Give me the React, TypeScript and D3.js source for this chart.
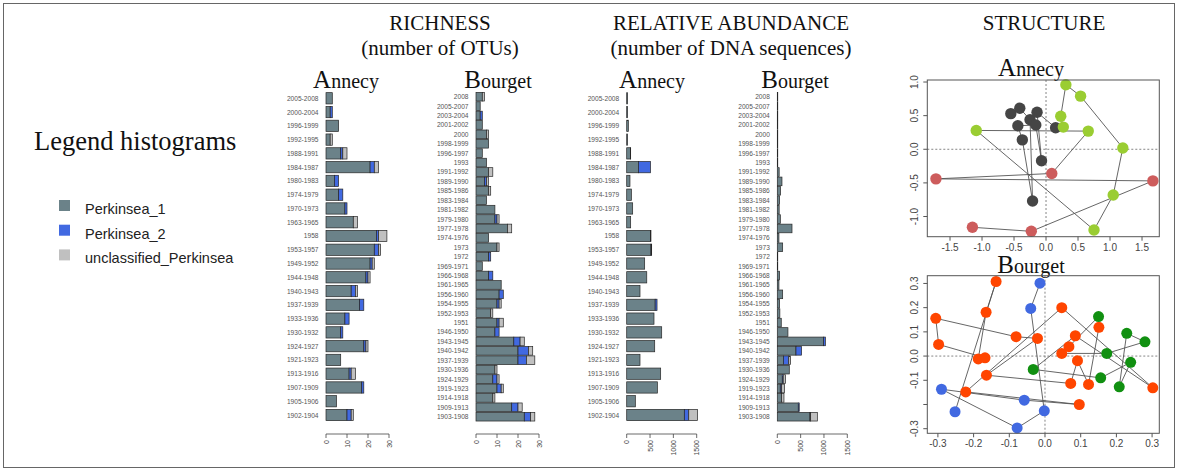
import React from 'react';
import * as d3 from 'd3';

// Annecy periods (top to bottom), shared by richness and abundance
const annecyPeriods = ['2005-2008', '2000-2004', '1996-1999', '1992-1995', '1988-1991', '1984-1987', '1980-1983', '1974-1979', '1970-1973', '1963-1965', '1958', '1953-1957', '1949-1952', '1944-1948', '1940-1943', '1937-1939', '1933-1936', '1930-1932', '1924-1927', '1921-1923', '1913-1916', '1907-1909', '1905-1906', '1902-1904'];
const annecyRichP1 = [3, 2, 6, 2, 7, 21, 4, 6, 9, 13, 24, 23, 21, 19, 12, 16, 9, 7, 18, 7, 11, 17, 5, 10];
const annecyRichP2 = [0, 1, 0, 0, 1, 2, 2, 2, 1, 0, 1, 2, 1, 1, 2, 2, 2, 1, 1, 0, 1, 1, 0, 2];
const annecyRichUn = [0, 0, 0, 1, 2, 2, 0, 0, 0, 2, 4, 1, 1, 1, 1, 0, 0, 0, 1, 0, 2, 0, 0, 1];
const annecyAbP1 = [20, 20, 35, 20, 80, 250, 70, 100, 128, 85, 510, 520, 385, 430, 285, 610, 585, 750, 600, 285, 728, 657, 185, 1235];
const annecyAbP2 = [0, 0, 0, 0, 5, 260, 0, 0, 0, 0, 10, 15, 0, 0, 0, 40, 0, 0, 0, 0, 0, 0, 0, 95];
const annecyAbUn = [0, 0, 0, 0, 0, 0, 0, 0, 0, 0, 0, 0, 0, 0, 0, 0, 0, 0, 0, 0, 0, 0, 0, 190];

// Bourget periods (top to bottom)
const bourgetPeriods = ['2008', '2005-2007', '2003-2004', '2001-2002', '2000', '1998-1999', '1996-1997', '1993', '1991-1992', '1989-1990', '1985-1986', '1983-1984', '1981-1982', '1979-1980', '1977-1978', '1974-1976', '1973', '1972', '1969-1971', '1966-1968', '1961-1965', '1956-1960', '1954-1955', '1952-1953', '1951', '1946-1950', '1943-1945', '1940-1942', '1937-1939', '1930-1936', '1924-1929', '1919-1923', '1914-1918', '1909-1913', '1903-1908'];
const bourgetRichP1 = [3, 2, 2, 3, 5, 6, 3, 5, 6, 4, 6, 5, 9, 9, 15, 6, 10, 6, 3, 6, 12, 11, 10, 7, 10, 9, 18, 20, 20, 9, 8, 10, 8, 17, 23];
const bourgetRichP2 = [0, 0, 1, 0, 0, 0, 0, 0, 0, 1, 0, 0, 0, 1, 0, 0, 0, 1, 0, 2, 0, 2, 1, 0, 1, 2, 3, 5, 4, 0, 2, 2, 0, 3, 3];
const bourgetRichUn = [1, 0, 0, 0, 1, 0, 0, 0, 2, 1, 1, 0, 0, 1, 2, 0, 1, 0, 0, 0, 0, 0, 1, 1, 2, 0, 2, 2, 4, 1, 1, 1, 1, 2, 2];
const bourgetAbP1 = [10, 10, 10, 10, 10, 10, 10, 10, 40, 100, 70, 50, 40, 65, 315, 35, 115, 10, 10, 50, 35, 115, 50, 55, 85, 228, 990, 400, 130, 257, 107, 64, 93, 450, 700];
const bourgetAbP2 = [0, 0, 0, 0, 0, 0, 0, 0, 0, 0, 0, 0, 0, 0, 0, 0, 0, 0, 0, 0, 0, 0, 0, 0, 0, 0, 40, 120, 115, 0, 20, 28, 0, 20, 15];
const bourgetAbUn = [0, 0, 0, 0, 0, 0, 0, 0, 0, 0, 0, 0, 0, 0, 0, 0, 0, 0, 0, 0, 0, 0, 0, 0, 0, 0, 0, 0, 40, 0, 50, 64, 50, 0, 143];

const richTicks = [0, 10, 20, 30];
const abTicks = [0, 500, 1000, 1500];

// NMDS, trajectory order
const annecyNmdsX = [-0.55, -0.41, -0.25, -0.21, -0.37, -0.44, -0.16, -0.07, -0.14, 0.15, 0.27, 0.23, 0.31, 0.54, 1.2, 1.05, 0.75, -1.09, 0.66, 0.09, -1.72, 1.67, -0.23, -1.15];
const annecyNmdsY = [0.53, 0.61, 0.44, -0.77, 0.14, 0.35, 0.36, -0.17, 0.55, 0.32, 0.33, 0.49, 0.96, 0.79, 0.02, -0.68, -1.2, 0.28, 0.27, -0.36, -0.44, -0.47, -1.22, -1.16];
const annecyNmdsGroup = ['d', 'd', 'd', 'd', 'd', 'd', 'd', 'd', 'd', 'd', 'y', 'y', 'y', 'y', 'y', 'y', 'y', 'y', 'y', 'r', 'r', 'r', 'r', 'r'];
const annecyXTicks = [-1.5, -1, -0.5, 0, 0.5, 1, 1.5];
const annecyYTicks = [-1, -0.5, 0, 0.5, 1];

const bourgetNmdsX = [-0.252, -0.137, -0.165, -0.187, -0.168, -0.298, -0.306, -0.081, -0.021, -0.164, 0.072, 0.091, 0.122, 0.151, 0.15, 0.067, 0.047, 0.173, 0.28, 0.229, 0.208, 0.24, 0.156, -0.033, 0.085, 0.302, 0.047, -0.222, 0.096, -0.058, -0.29, -0.078, -0.002, -0.04, -0.014];
const bourgetNmdsY = [-0.23, 0.308, 0.181, -0.012, -0.007, 0.048, 0.156, 0.08, 0.073, -0.079, -0.113, -0.019, -0.117, 0.119, 0.163, 0.039, 0.011, 0.011, 0.059, 0.094, -0.127, -0.026, -0.09, -0.055, 0.084, -0.131, 0.2, -0.148, -0.2, -0.182, -0.137, -0.297, -0.226, 0.197, 0.301];
const bourgetNmdsGroup = ['b', 'o', 'o', 'o', 'o', 'o', 'o', 'o', 'o', 'o', 'o', 'o', 'o', 'o', 'g', 'o', 'o', 'g', 'g', 'g', 'g', 'g', 'g', 'g', 'o', 'o', 'o', 'o', 'o', 'b', 'b', 'b', 'b', 'b', 'b'];
const bourgetXTicks = [-0.3, -0.2, -0.1, 0, 0.1, 0.2, 0.3];
const bourgetYTicks = [-0.3, -0.2, -0.1, 0, 0.1, 0.2, 0.3];
const bourgetYLabels = [-0.3, -0.1, 0, 0.1, 0.2, 0.3];

const legendItems = ['Perkinsea_1', 'Perkinsea_2', 'unclassified_Perkinsea'];

const colP1 = '#6b8289';
const colP2 = '#4169e1';
const colUn = '#c0c0c0';
const stackColors = [colP1, colP2, colUn];
const groupColors: Record<string, string> = {
  d: '#454545', y: '#9acd32', r: '#cd5c5c',
  o: '#ff4500', b: '#4169e1', g: '#119011',
};

const SERIF = '"Liberation Serif", "Times New Roman", serif';
const SANS = '"Liberation Sans", Arial, sans-serif';

const fmt = (v: number) => v.toFixed(1);

function BarPanel({ cats, p1, p2, un, base, width, max, ticks, yTop, yBot, ratio, axisY }: any) {
  const x = d3.scaleLinear().domain([0, max]).range([base, base + width]);
  const y = d3.scalePoint<string>().domain(cats).range([yTop, yBot]);
  const h = y.step() * ratio;
  const rows = cats.map((c: string, i: number) => ({ cat: c, p1: p1[i], p2: p2[i], un: un[i] }));
  const series = d3.stack<any>().keys(['p1', 'p2', 'un'])(rows);
  return (
    <g>
      {cats.map((c: string) => (
        <text key={c} x={base - 7.5} y={y(c)} textAnchor="end" dominantBaseline="central"
          fontFamily={SANS} fontSize={6.6} fill="#555">{c}</text>
      ))}
      {series.map((s, si) => (
        <g key={s.key}>
          {s.map((d: any) => (
            <rect key={d.data.cat} x={x(d[0])} y={(y(d.data.cat) as number) - h / 2}
              width={x(d[1]) - x(d[0])} height={h}
              fill={stackColors[si]} stroke="#262626" strokeWidth={0.7} />
          ))}
        </g>
      ))}
      <line x1={x(0)} x2={x(max)} y1={axisY} y2={axisY} stroke="#444" strokeWidth={0.8} />
      {ticks.map((t: number) => (
        <g key={t}>
          <line x1={x(t)} x2={x(t)} y1={axisY} y2={axisY + 4} stroke="#444" strokeWidth={0.8} />
          <text transform={`translate(${x(t)},${axisY + 6}) rotate(-90)`} textAnchor="end"
            dominantBaseline="central" fontFamily={SANS} fontSize={7} fill="#444">{t}</text>
        </g>
      ))}
    </g>
  );
}

function NmdsPanel({ xs, ys, groups, left, right, top, bottom, xDomain, yDomain, xTicks, yTicks, yLabels, r }: any) {
  const x = d3.scaleLinear().domain(xDomain).range([left, right]);
  const y = d3.scaleLinear().domain(yDomain).range([bottom, top]);
  const pts = xs.map((v: number, i: number) => [x(v), y(ys[i])] as [number, number]);
  const path = d3.line()(pts) || '';
  const labs = yLabels || yTicks;
  return (
    <g>
      <line x1={x(0)} x2={x(0)} y1={top} y2={bottom} stroke="#777" strokeDasharray="2,2" strokeWidth={0.9} />
      <line x1={left} x2={right} y1={y(0)} y2={y(0)} stroke="#777" strokeDasharray="2,2" strokeWidth={0.9} />
      <path d={path} fill="none" stroke="#555" strokeWidth={0.9} />
      {pts.map((p: [number, number], i: number) => (
        <circle key={i} cx={p[0]} cy={p[1]} r={r} fill={groupColors[groups[i]]} />
      ))}
      <rect x={left} y={top} width={right - left} height={bottom - top} fill="none" stroke="#555" strokeWidth={1} />
      {xTicks.map((t: number) => (
        <g key={t}>
          <line x1={x(t)} x2={x(t)} y1={bottom} y2={bottom + 4} stroke="#555" />
          <text x={x(t)} y={bottom + 14} textAnchor="middle" fontFamily={SANS} fontSize={10} fill="#444">{fmt(t)}</text>
        </g>
      ))}
      {yTicks.map((t: number) => (
        <line key={t} x1={left - 4} x2={left} y1={y(t)} y2={y(t)} stroke="#555" />
      ))}
      {labs.map((t: number) => (
        <text key={t} transform={`translate(${left - 9},${y(t)}) rotate(-90)`} textAnchor="middle"
          fontFamily={SANS} fontSize={10} fill="#444">{fmt(t)}</text>
      ))}
    </g>
  );
}

function Site({ x, y, big, rest }: any) {
  return (
    <text x={x} y={y} textAnchor="middle" fontFamily={SERIF} fill="#111">
      <tspan fontSize={25}>{big}</tspan>
      <tspan fontSize={20}>{rest}</tspan>
    </text>
  );
}

export default function App() {
  return (
    <svg width={1178} height={471} style={{ position: 'absolute', left: 0, top: 0, background: '#fff' }}>
      <rect x={3.5} y={3.5} width={1171} height={464} fill="#fff" stroke="#666" strokeWidth={1} />

      <text x={34} y={150} fontFamily={SERIF} fontSize={26.5} fill="#111">Legend histograms</text>
      {legendItems.map((t, i) => (
        <g key={t}>
          <rect x={59} y={200 + i * 24.7} width={11} height={11} fill={stackColors[i]} />
          <text x={85} y={214 + i * 24.7} fontFamily={SANS} fontSize={14.5} fill="#222">{t}</text>
        </g>
      ))}

      <text x={440} y={30} textAnchor="middle" fontFamily={SERIF} fontSize={21} fill="#111">RICHNESS</text>
      <text x={440} y={55} textAnchor="middle" fontFamily={SERIF} fontSize={21} fill="#111">(number of OTUs)</text>
      <text x={731} y={30} textAnchor="middle" fontFamily={SERIF} fontSize={21} fill="#111">RELATIVE ABUNDANCE</text>
      <text x={731} y={55} textAnchor="middle" fontFamily={SERIF} fontSize={21} fill="#111">(number of DNA sequences)</text>
      <text x={1044} y={30} textAnchor="middle" fontFamily={SERIF} fontSize={21} fill="#111">STRUCTURE</text>

      <Site x={346} y={88} big="A" rest="nnecy" />
      <Site x={498} y={88} big="B" rest="ourget" />
      <Site x={652} y={88} big="A" rest="nnecy" />
      <Site x={795} y={88} big="B" rest="ourget" />
      <Site x={1031} y={76} big="A" rest="nnecy" />
      <Site x={1031} y={273} big="B" rest="ourget" />

      <BarPanel cats={annecyPeriods} p1={annecyRichP1} p2={annecyRichP2} un={annecyRichUn}
        base={326} width={63} max={30} ticks={richTicks} yTop={98.3} yBot={415} ratio={0.82} axisY={434} />
      <BarPanel cats={bourgetPeriods} p1={bourgetRichP1} p2={bourgetRichP2} un={bourgetRichUn}
        base={476} width={63} max={30} ticks={richTicks} yTop={96.7} yBot={416.7} ratio={0.92} axisY={434} />
      <BarPanel cats={annecyPeriods} p1={annecyAbP1} p2={annecyAbP2} un={annecyAbUn}
        base={626.7} width={70} max={1500} ticks={abTicks} yTop={98.3} yBot={415} ratio={0.82} axisY={434} />
      <BarPanel cats={bourgetPeriods} p1={bourgetAbP1} p2={bourgetAbP2} un={bourgetAbUn}
        base={777.3} width={70} max={1500} ticks={abTicks} yTop={96.7} yBot={416.7} ratio={0.92} axisY={434} />

      <NmdsPanel xs={annecyNmdsX} ys={annecyNmdsY} groups={annecyNmdsGroup}
        left={927.3} right={1159.3} top={80} bottom={236.7}
        xDomain={[-1.855, 1.77]} yDomain={[-1.3, 1.03]} xTicks={annecyXTicks} yTicks={annecyYTicks} r={5.7} />
      <NmdsPanel xs={bourgetNmdsX} ys={bourgetNmdsY} groups={bourgetNmdsGroup}
        left={927.3} right={1159.3} top={275.7} bottom={433.3}
        xDomain={[-0.3297, 0.3202]} yDomain={[-0.319, 0.332]} xTicks={bourgetXTicks} yTicks={bourgetYTicks}
        yLabels={bourgetYLabels} r={5.5} />
    </svg>
  );
}
